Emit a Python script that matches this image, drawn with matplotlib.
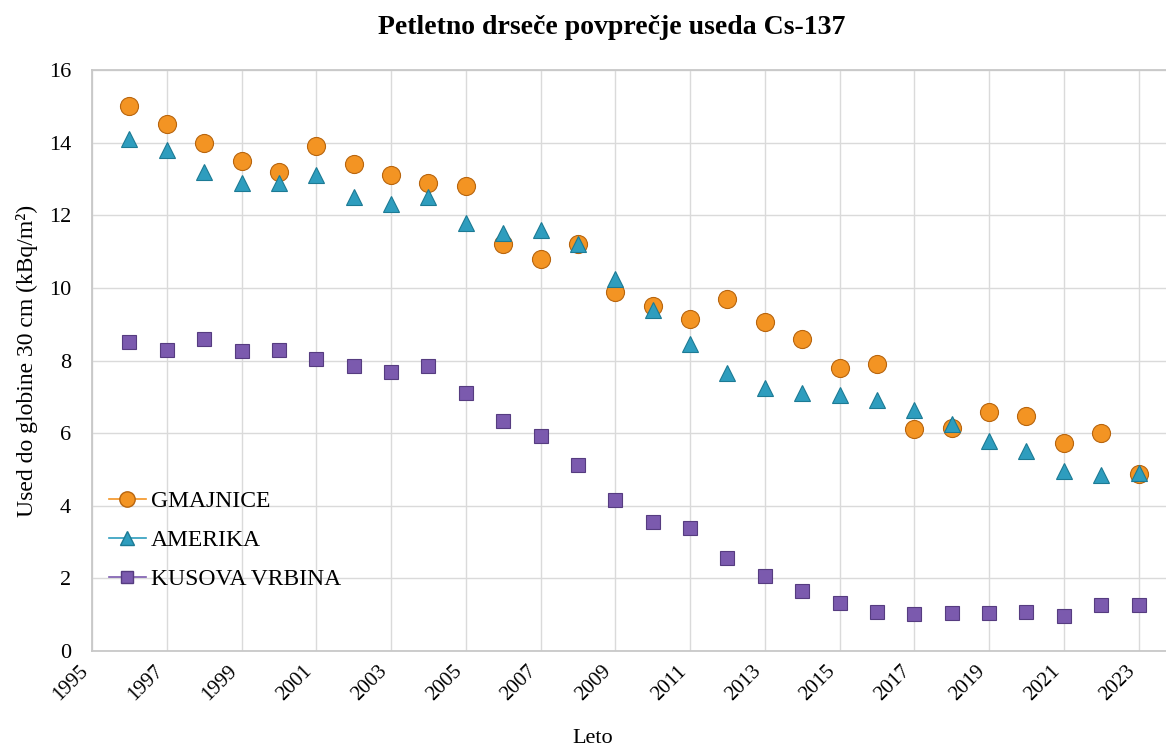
import matplotlib
matplotlib.use("Agg")
import matplotlib.pyplot as plt

# five-year moving average of Cs-137 deposition
years = list(range(1996, 2024))
gmajnice = [15.0, 14.5, 14.0, 13.5, 13.2, 13.9, 13.4, 13.1, 12.9, 12.8,
            11.2, 10.8, 11.2, 9.9, 9.5, 9.15, 9.7, 9.05, 8.6, 7.8,
            7.9, 6.12, 6.13, 6.57, 6.48, 5.74, 6.01, 4.88]
amerika = [14.1, 13.8, 13.2, 12.9, 12.9, 13.1, 12.5, 12.3, 12.5, 11.8,
           11.5, 11.6, 11.2, 10.25, 9.4, 8.45, 7.65, 7.25, 7.1, 7.05,
           6.9, 6.64, 6.25, 5.77, 5.52, 4.96, 4.85, 4.9]
kusova = [8.5, 8.3, 8.6, 8.25, 8.3, 8.05, 7.85, 7.68, 7.85, 7.1,
          6.34, 5.92, 5.12, 4.15, 3.55, 3.38, 2.55, 2.07, 1.65, 1.33,
          1.07, 1.02, 1.04, 1.04, 1.07, 0.97, 1.27, 1.27]

series = [
    ("GMAJNICE", gmajnice, "o", "#F39423", "#B8650E", 13),
    ("AMERIKA", amerika, "^", "#2E9DBE", "#1C7A94", 11.5),
    ("KUSOVA VRBINA", kusova, "s", "#7B5AAE", "#563C80", 10),
]

plt.rcParams['font.family'] = ['Liberation Serif', 'DejaVu Serif']

fig = plt.figure(figsize=(11.66, 7.53), dpi=100)
# plot area runs off the right edge of the picture, like the reference
ax = fig.add_axes([92 / 1166, 1 - 651 / 753, (1176 - 92) / 1166, (651 - 70) / 753])

for name, vals, mk, fc, ec, ms in series:
    ax.plot(years, vals, linestyle='none', marker=mk, markersize=ms,
            markerfacecolor=fc, markeredgecolor=ec, markeredgewidth=0.8,
            color=fc, label=name, zorder=3)

ax.set_xlim(1995, 2024)
ax.set_ylim(0, 16)
ax.set_xticks(range(1995, 2024, 2))
ax.set_yticks(range(0, 17, 2))
ax.grid(True, color='#DADADA', linewidth=1.0)
ax.set_axisbelow(True)
ax.tick_params(axis='y', length=0, labelsize=16, pad=15)
ax.tick_params(axis='x', length=0, labelsize=15, pad=8)
for lab in ax.get_xticklabels():
    lab.set_rotation(45)
    lab.set_ha('right')
for s in ['left', 'bottom', 'top']:
    ax.spines[s].set_color('#C8C8C8')
    ax.spines[s].set_linewidth(1.3)
ax.spines['right'].set_visible(False)

ax.set_ylabel('Used do globine 30 cm (kBq/m²)', fontsize=17)
ax.yaxis.set_label_coords(-0.05, 0.5)
ax.set_xlabel('Leto', fontsize=16)
ax.xaxis.set_label_coords((593 - 92) / 1084, -0.135)
fig.text(612 / 1166, 1 - 28 / 753, 'Petletno drseče povprečje useda Cs-137',
         ha='center', va='center', fontsize=20, fontweight='bold')

# legend entries show marker with a short line through it
handles = []
for name, vals, mk, fc, ec, ms in series:
    h, = ax.plot([], [], marker=mk, markersize=ms * 0.85, markerfacecolor=fc,
                 markeredgecolor=ec, color=fc, linewidth=1.2, label=name)
    handles.append(h)
ax.legend(handles=handles, loc='upper left', bbox_to_anchor=(0.0, 0.305),
          frameon=False, fontsize=17, handlelength=1.6, handletextpad=0.2,
          labelspacing=0.75, borderaxespad=0.3)

fig.savefig('out.png', dpi=100)
